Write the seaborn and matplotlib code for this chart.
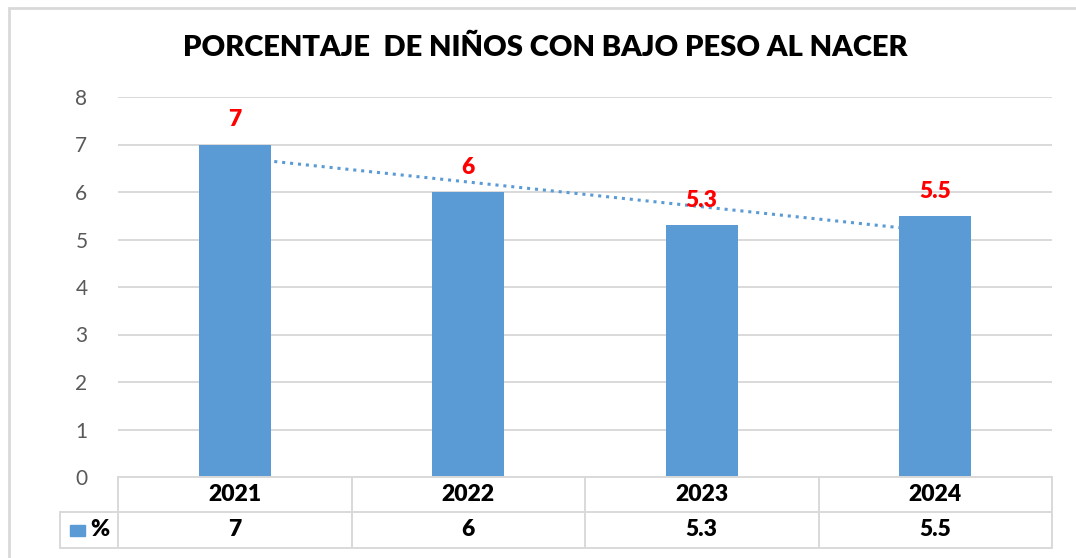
import numpy as np
import pandas as pd
import seaborn as sns
import matplotlib.pyplot as plt
from matplotlib.patches import Rectangle
from matplotlib.lines import Line2D

# Datos del gráfico
anios = ["2021", "2022", "2023", "2024"]
porcentajes = [7, 6, 5.3, 5.5]
etiquetas = ["7", "6", "5.3", "5.5"]
serie = "%"
titulo = "PORCENTAJE  DE NIÑOS CON BAJO PESO AL NACER"

azul = "#5B9BD5"
gris = "#D9D9D9"

df = pd.DataFrame({"anio": anios, "valor": porcentajes})

sns.set_style("white")
plt.rcParams["font.family"] = ["Lato", "DejaVu Sans"]

fig = plt.figure(figsize=(10.76, 5.58), dpi=100)
ax = fig.add_axes([118 / 1076, 1 - 477 / 558, 934 / 1076, 380 / 558])

# Línea de tendencia (lineal), detrás de las barras
x = np.arange(len(anios))
m, b = np.polyfit(x, porcentajes, 1)
ax.plot(x, m * x + b, linestyle=(0, (1, 1.6)), color=azul, linewidth=2.2, zorder=1)

sns.barplot(data=df, x="anio", y="valor", color=azul, width=0.31, saturation=1,
            linewidth=0, ax=ax, zorder=2)

for i, (v, t) in enumerate(zip(porcentajes, etiquetas)):
    ax.text(i, v + 0.3, t, ha="center", va="bottom", color="#FF0000",
            fontsize=16.5, fontweight="heavy", zorder=3)

ax.set_ylim(0, 8)
ax.set_xlim(-0.5, len(anios) - 0.5)
ax.set_yticks(range(0, 9))
ax.yaxis.grid(True, color=gris, linewidth=1.4)
ax.set_axisbelow(True)
for s in ax.spines.values():
    s.set_visible(False)
ax.set_xticks([])
ax.set_xlabel("")
ax.set_ylabel("")
ax.tick_params(axis="y", length=0, labelsize=15, labelcolor="#595959", pad=22)

fig.text(545 / 1076, 1 - 48 / 558, titulo, ha="center", va="center",
         fontsize=21, fontweight="heavy", color="black")

# Tabla de datos bajo el eje
def px(xp, yp):
    return xp / 1076, 1 - yp / 558

lineas = []
y0, y1, y2 = 477, 512, 548
xs = [118 + i * 233.5 for i in range(len(anios) + 1)]
lineas.append(((118, 1052), (y0, y0)))
lineas.append(((60, 1052), (y1, y1)))
lineas.append(((60, 1052), (y2, y2)))
lineas.append(((60, 60), (y1, y2)))
for xv in xs:
    lineas.append(((xv, xv), (y0, y2)))
for (xa, xb), (ya, yb) in lineas:
    fig.add_artist(Line2D([xa / 1076, xb / 1076], [1 - ya / 558, 1 - yb / 558],
                          color=gris, linewidth=1.4))

for i, (a, t) in enumerate(zip(anios, etiquetas)):
    cx = (xs[i] + xs[i + 1]) / 2
    fig.text(*px(cx, (y0 + y1) / 2), a, ha="center", va="center",
             fontsize=16.5, fontweight="heavy", color="black")
    fig.text(*px(cx, (y1 + y2) / 2), t, ha="center", va="center",
             fontsize=16.5, fontweight="heavy", color="black")

fig.add_artist(Rectangle(px(70, 536), 15 / 1076, 11 / 558, color=azul))
fig.text(*px(90, (y1 + y2) / 2), serie, ha="left", va="center",
         fontsize=16.5, fontweight="heavy", color="black")

# Borde del área del gráfico
fig.add_artist(Rectangle(px(9, 600), 1100 / 1076, 592 / 558, fill=False,
                         edgecolor=gris, linewidth=2))

fig.savefig("out.png", dpi=100)
